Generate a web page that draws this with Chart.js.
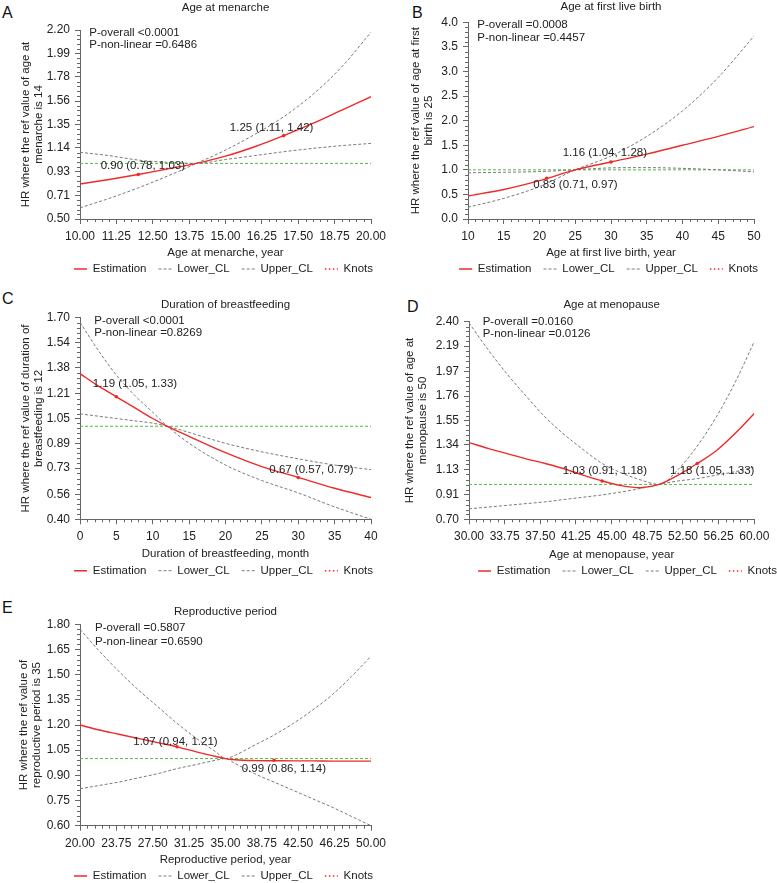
<!DOCTYPE html>
<html><head><meta charset="utf-8">
<script src="https://cdn.jsdelivr.net/npm/chart.js@4.4.1/dist/chart.umd.min.js"></script>
<style>
html,body{margin:0;padding:0;background:#fff;overflow:hidden;width:777px;height:883px;position:relative;}
canvas{position:absolute;}
.lab{position:absolute;font-size:16px;line-height:16px;font-family:"Liberation Sans",Arial,sans-serif;color:#111;}
</style></head><body>
<div class="lab" style="left:2px;top:5px">A</div>
<div class="lab" style="left:412px;top:5px">B</div>
<div class="lab" style="left:2px;top:291px">C</div>
<div class="lab" style="left:407px;top:299px">D</div>
<div class="lab" style="left:2px;top:600px">E</div>
<script>
// ---------------- DATA ----------------
// A: Age at menarche
const menarcheX     = [10, 11, 12, 13, 14, 15, 16, 17, 18, 19, 20];
const menarcheEst   = [0.815, 0.855, 0.90, 0.95, 1.0, 1.065, 1.15, 1.25, 1.36, 1.48, 1.60];
const menarcheLower = [0.60, 0.685, 0.78, 0.885, 1.0, 1.12, 1.26, 1.42, 1.62, 1.87, 2.18];
const menarcheUpper = [1.10, 1.07, 1.03, 1.01, 1.0, 1.035, 1.07, 1.105, 1.135, 1.16, 1.18];
const menarcheKnotX = [12, 17];
const menarcheKnotY = [0.90, 1.25];
const menarcheXTicks = [10, 11.25, 12.5, 13.75, 15, 16.25, 17.5, 18.75, 20];
const menarcheYTicks = [0.50, 0.71, 0.93, 1.14, 1.35, 1.56, 1.78, 1.99, 2.20];

// B: Age at first live birth
const birthX     = [10, 15, 20, 25, 30, 35, 40, 45, 50];
const birthEst   = [0.47, 0.60, 0.78, 1.0, 1.16, 1.32, 1.50, 1.68, 1.88];
const birthLower = [0.24, 0.42, 0.66, 1.0, 1.28, 1.68, 2.20, 2.88, 3.72];
const birthUpper = [0.94, 0.95, 0.965, 1.0, 1.04, 1.045, 1.03, 1.0, 0.96];
const birthKnotX = [21, 30];
const birthKnotY = [0.83, 1.16];
const birthXTicks = [10, 15, 20, 25, 30, 35, 40, 45, 50];
const birthYTicks = [0.0, 0.5, 1.0, 1.5, 2.0, 2.5, 3.0, 3.5, 4.0];

// C: Duration of breastfeeding
const feedX     = [0, 2.5, 5, 7.5, 10, 12, 15, 20, 25, 30, 35, 40];
const feedEst   = [1.34, 1.26, 1.19, 1.12, 1.05, 1.0, 0.935, 0.83, 0.74, 0.67, 0.60, 0.54];
const feedLower = [1.08, 1.065, 1.05, 1.035, 1.02, 1.0, 0.96, 0.89, 0.835, 0.79, 0.75, 0.72];
const feedUpper = [1.67, 1.49, 1.33, 1.20, 1.09, 1.0, 0.89, 0.75, 0.65, 0.57, 0.48, 0.40];
const feedKnotX = [5, 30];
const feedKnotY = [1.19, 0.67];
const feedXTicks = [0, 5, 10, 15, 20, 25, 30, 35, 40];
const feedYTicks = [0.40, 0.56, 0.73, 0.89, 1.05, 1.21, 1.38, 1.54, 1.70];

// D: Age at menopause
const menoX     = [30, 32, 34, 36, 38, 40, 42, 44, 46, 48, 50, 52, 54, 56, 58, 60];
const menoEst   = [1.36, 1.31, 1.265, 1.22, 1.18, 1.135, 1.08, 1.03, 0.99, 0.972, 1.0, 1.08, 1.18, 1.29, 1.44, 1.61];
const menoLower = [0.79, 0.805, 0.82, 0.835, 0.85, 0.87, 0.89, 0.91, 0.935, 0.965, 1.0, 1.03, 1.05, 1.08, 1.11, 1.15];
const menoUpper = [2.39, 2.16, 1.95, 1.76, 1.58, 1.43, 1.30, 1.18, 1.10, 1.04, 1.0, 1.13, 1.33, 1.58, 1.88, 2.23];
const menoKnotX = [44, 54];
const menoKnotY = [1.03, 1.18];
const menoXTicks = [30, 33.75, 37.5, 41.25, 45, 48.75, 52.5, 56.25, 60];
const menoYTicks = [0.70, 0.91, 1.13, 1.34, 1.55, 1.76, 1.97, 2.19, 2.40];

// E: Reproductive period
const reproX     = [20, 22, 24, 26, 28, 30, 32, 34, 35, 36, 38, 40, 42, 44, 46, 48, 50];
const reproEst   = [1.20, 1.17, 1.145, 1.12, 1.095, 1.07, 1.04, 1.012, 1.0, 0.993, 0.988, 0.987, 0.986, 0.986, 0.985, 0.985, 0.985];
const reproLower = [0.82, 0.84, 0.86, 0.885, 0.91, 0.94, 0.965, 0.99, 1.0, 0.97, 0.91, 0.86, 0.81, 0.76, 0.71, 0.655, 0.60];
const reproUpper = [1.77, 1.64, 1.52, 1.41, 1.31, 1.21, 1.12, 1.04, 1.0, 1.02, 1.08, 1.14, 1.21, 1.29, 1.38, 1.49, 1.61];
const reproKnotX = [30, 40];
const reproKnotY = [1.07, 0.99];
const reproXTicks = [20, 23.75, 27.5, 31.25, 35, 38.75, 42.5, 46.25, 50];
const reproYTicks = [0.60, 0.75, 0.90, 1.05, 1.20, 1.35, 1.50, 1.65, 1.80];

// ---------------- PANELS ----------------
const panels = [
  { title: 'Age at menarche', xTitle: 'Age at menarche, year',
    yTitle: ['HR where the ref value of age at', 'menarche is 14'],
    x: menarcheX, est: menarcheEst, lo: menarcheLower, up: menarcheUpper, kx: menarcheKnotX, ky: menarcheKnotY,
    xTicks: menarcheXTicks, yTicks: menarcheYTicks, xDec: 2, yDec: 2,
    pText: ['P-overall <0.0001', 'P-non-linear =0.6486'],
    notes: [{t: '0.90 (0.78, 1.03)', x: 10.71, y: 0.98}, {t: '1.25 (1.11, 1.42)', x: 15.15, y: 1.316}],
    geo: {x0: 0, top: 0, cl: 80, cr: 371, ct: 30, cb: 219, titleY: 7.5, xTitleY: 253, legY: 269, legEnd: 373, yTitleX: 25.7, pdx: 9.3, pdy: [2.7, 15]} },
  { title: 'Age at first live birth', xTitle: 'Age at first live birth, year',
    yTitle: ['HR where the ref value of age at first', 'birth is 25'],
    x: birthX, est: birthEst, lo: birthLower, up: birthUpper, kx: birthKnotX, ky: birthKnotY,
    xTicks: birthXTicks, yTicks: birthYTicks, xDec: 0, yDec: 1,
    pText: ['P-overall =0.0008', 'P-non-linear =0.4457'],
    notes: [{t: '1.16 (1.04, 1.28)', x: 23.24, y: 1.348}, {t: '0.83 (0.71, 0.97)', x: 19.13, y: 0.691}],
    geo: {x0: 390, top: 0, cl: 468, cr: 754, ct: 22.3, cb: 219, titleY: 7.3, xTitleY: 253, legY: 269, legEnd: 758, yTitleX: 415.7, pdx: 9.3, pdy: [2.7, 15.4]} },
  { title: 'Duration of breastfeeding', xTitle: 'Duration of breastfeeding, month',
    yTitle: ['HR where the ref value of duration of', 'breastfeeding is 12'],
    x: feedX, est: feedEst, lo: feedLower, up: feedUpper, kx: feedKnotX, ky: feedKnotY,
    xTicks: feedXTicks, yTicks: feedYTicks, xDec: 0, yDec: 2,
    pText: ['P-overall <0.0001', 'P-non-linear =0.8269'],
    notes: [{t: '1.19 (1.05, 1.33)', x: 1.75, y: 1.271}, {t: '0.67 (0.57, 0.79)', x: 26.02, y: 0.718}],
    geo: {x0: 0, top: 290, cl: 80, cr: 371, ct: 317.7, cb: 519.3, titleY: 305, xTitleY: 554, legY: 570.7, legEnd: 373, yTitleX: 25.7, pdx: 14.3, pdy: [3, 15.6]} },
  { title: 'Age at menopause', xTitle: 'Age at menopause, year',
    yTitle: ['HR where the ref value of age at', 'menopause is 50'],
    x: menoX, est: menoEst, lo: menoLower, up: menoUpper, kx: menoKnotX, ky: menoKnotY,
    xTicks: menoXTicks, yTicks: menoYTicks, xDec: 2, yDec: 2,
    pText: ['P-overall =0.0160', 'P-non-linear =0.0126'],
    notes: [{t: '1.03 (0.91, 1.18)', x: 39.85, y: 1.118}, {t: '1.18 (1.05, 1.33)', x: 51.14, y: 1.118}],
    geo: {x0: 390, top: 290, cl: 469, cr: 754.3, ct: 321.7, cb: 519.3, titleY: 305, xTitleY: 555, legY: 571, legEnd: 777, yTitleX: 410, pdx: 13.7, pdy: [0, 12.6]} },
  { title: 'Reproductive period', xTitle: 'Reproductive period, year',
    yTitle: ['HR where the ref value of', 'reproductive period is 35'],
    x: reproX, est: reproEst, lo: reproLower, up: reproUpper, kx: reproKnotX, ky: reproKnotY,
    xTicks: reproXTicks, yTicks: reproYTicks, xDec: 2, yDec: 2,
    pText: ['P-overall =0.5807', 'P-non-linear =0.6590'],
    notes: [{t: '1.07 (0.94, 1.21)', x: 25.49, y: 1.10}, {t: '0.99 (0.86, 1.14)', x: 36.67, y: 0.936}],
    geo: {x0: 0, top: 595, cl: 80, cr: 371, ct: 624.3, cb: 825.7, titleY: 611.7, xTitleY: 860, legY: 876, legEnd: 373, yTitleX: 24, pdx: 15, pdy: [4, 17.4]} }
];

const FONT = '"Liberation Sans", Arial, Helvetica, sans-serif';
const FS = 11.5, TICKFS = 12, LEGP = 12;
const TXT = '#222', AXIS = '#666';
const RED = '#ee2a2a', GRAY = '#7a7a7a', GREEN = '#55b84a';

function pts(xs, ys) { return xs.map((x, i) => ({x: x, y: ys[i]})); }

function legendLabels(chart) {
  const items = Chart.defaults.plugins.legend.labels.generateLabels(chart);
  return items.filter(it => it.text !== 'ref')
    .sort((p, q) => p.datasetIndex - q.datasetIndex)
    .map(it => {
      const ds = chart.data.datasets[it.datasetIndex];
      it.lineDash = ds.borderDash || [];
      it.lineWidth = ds.borderWidth;
      it.strokeStyle = ds.borderColor;
      it.fillStyle = ds.borderColor;
      it.pointStyle = 'line';
      return it;
    });
}

function makePanel(P) {
  const G = P.geo;
  const lh = FS * 1.2;
  const Lc = G.x0;
  const Rl = G.legEnd + LEGP;
  const canvasRight = Math.max(G.cr + 18, Rl);
  const W = Math.ceil(canvasRight - Lc);
  const padR = (Lc + W) - Rl;
  const w = Rl - G.cr;
  const a = G.titleY - G.top - lh / 2;
  const b = G.ct - G.top - lh - a;
  const legTop = G.legY - LEGP - FS / 2;
  const legBottom = legTop + FS + LEGP + 10;
  const H = Math.ceil(legBottom - G.top);
  const padB = G.top + H - legBottom;
  const hX = legTop - G.cb;
  const pbX = legTop - lh / 2 - G.xTitleY;
  const yLh = 13;
  const ptY = G.yTitleX - Lc - yLh / 2;

  const cv = document.createElement('canvas');
  cv.width = W; cv.height = H;
  cv.style.left = Lc + 'px'; cv.style.top = G.top + 'px';
  cv.style.width = W + 'px'; cv.style.height = H + 'px';
  document.body.appendChild(cv);

  const xmin = P.xTicks[0], xmax = P.xTicks[P.xTicks.length - 1];
  const ymin = P.yTicks[0], ymax = P.yTicks[P.yTicks.length - 1];

  const deco = {
    id: 'deco',
    afterDraw(chart) {
      const ctx = chart.ctx, ca = chart.chartArea;
      const xs = chart.scales.x, ys = chart.scales.y;
      ctx.save();
      // minor ticks
      ctx.strokeStyle = AXIS; ctx.lineWidth = 1;
      ctx.beginPath();
      for (let i = 0; i < P.xTicks.length - 1; i++) {
        const v0 = P.xTicks[i], v1 = P.xTicks[i + 1];
        for (let k = 1; k < 5; k++) {
          const px = Math.round(xs.getPixelForValue(v0 + (v1 - v0) * k / 5)) + 0.5;
          ctx.moveTo(px, ca.bottom); ctx.lineTo(px, ca.bottom + 3);
        }
      }
      for (let i = 0; i < P.yTicks.length - 1; i++) {
        const v0 = P.yTicks[i], v1 = P.yTicks[i + 1];
        for (let k = 1; k < 5; k++) {
          const py = Math.round(ys.getPixelForValue(v0 + (v1 - v0) * k / 5)) + 0.5;
          ctx.moveTo(ca.left, py); ctx.lineTo(ca.left - 3, py);
        }
      }
      ctx.stroke();
      // texts
      ctx.fillStyle = TXT;
      ctx.font = FS + 'px ' + FONT;
      ctx.textAlign = 'left'; ctx.textBaseline = 'middle';
      ctx.fillText(P.pText[0], ca.left + G.pdx, ca.top + G.pdy[0]);
      ctx.fillText(P.pText[1], ca.left + G.pdx, ca.top + G.pdy[1]);
      P.notes.forEach(n => {
        ctx.fillText(n.t, xs.getPixelForValue(n.x), ys.getPixelForValue(n.y));
      });
      ctx.restore();
    }
  };

  const lineBase = {pointRadius: 0, pointHoverRadius: 0, cubicInterpolationMode: 'monotone', fill: false};

  new Chart(cv, {
    type: 'line',
    data: {
      datasets: [
        Object.assign({label: 'Estimation', data: pts(P.x, P.est), borderColor: RED, backgroundColor: RED, borderWidth: 1.4, order: 1}, lineBase),
        Object.assign({label: 'Lower_CL', data: pts(P.x, P.lo), borderColor: GRAY, backgroundColor: GRAY, borderWidth: 1, borderDash: [3, 2], order: 2}, lineBase),
        Object.assign({label: 'Upper_CL', data: pts(P.x, P.up), borderColor: GRAY, backgroundColor: GRAY, borderWidth: 1, borderDash: [3, 2], order: 3}, lineBase),
        {label: 'Knots', data: pts(P.kx, P.ky), showLine: false, borderColor: RED, backgroundColor: RED,
         pointBackgroundColor: RED, pointBorderColor: RED, pointRadius: 1.8, pointBorderWidth: 0, borderWidth: 1.5, borderDash: [1.5, 2.5], order: 0},
        Object.assign({label: 'ref', data: [{x: xmin, y: 1}, {x: xmax, y: 1}], borderColor: GREEN, backgroundColor: GREEN, borderWidth: 1, borderDash: [3, 2], order: 5}, lineBase)
      ]
    },
    options: {
      responsive: false, animation: false, devicePixelRatio: 1,
      layout: {padding: {left: 0, top: 0, right: padR, bottom: padB}},
      plugins: {
        tooltip: {enabled: false},
        title: {display: true, text: P.title, fullSize: false, position: 'top', align: 'center', color: TXT,
                font: {family: FONT, size: FS, weight: 'normal'}, padding: {top: a, bottom: b}},
        legend: {display: true, position: 'bottom', align: 'end', fullSize: true,
                 labels: {usePointStyle: true, pointStyle: 'line', pointStyleWidth: 13, padding: LEGP, color: TXT,
                          font: {family: FONT, size: FS}, generateLabels: legendLabels}}
      },
      scales: {
        x: {
          type: 'linear', min: xmin, max: xmax,
          afterBuildTicks: s => { s.ticks = P.xTicks.map(v => ({value: v})); },
          afterFit: s => { s.height = hX; s.paddingLeft = 0; s.paddingRight = 0; },
          ticks: {autoSkip: false, maxRotation: 0, minRotation: 0, padding: 5.5, color: TXT,
                  font: {family: FONT, size: TICKFS}, callback: v => Number(v).toFixed(P.xDec)},
          grid: {display: true, drawOnChartArea: false, drawTicks: true, tickLength: 5, tickColor: AXIS, tickWidth: 1},
          border: {display: true, color: AXIS, width: 1},
          title: {display: true, text: P.xTitle, color: TXT, font: {family: FONT, size: FS}, padding: {top: 0, bottom: pbX}}
        },
        y: {
          type: 'linear', position: 'left', min: ymin, max: ymax,
          afterBuildTicks: s => { s.ticks = P.yTicks.map(v => ({value: v})); },
          afterFit: s => { s.width = G.cl - Lc; s.paddingTop = 0; s.paddingBottom = 0; },
          ticks: {autoSkip: false, padding: 5, color: TXT, font: {family: FONT, size: TICKFS},
                  callback: v => Number(v).toFixed(P.yDec)},
          grid: {display: true, drawOnChartArea: false, drawTicks: true, tickLength: 5, tickColor: AXIS, tickWidth: 1},
          border: {display: true, color: AXIS, width: 1},
          title: {display: true, text: P.yTitle, color: TXT, font: {family: FONT, size: FS, lineHeight: yLh / FS},
                  padding: {top: ptY, bottom: 0}}
        },
        yR: {
          type: 'linear', position: 'right', display: true,
          grid: {display: false}, border: {display: false}, ticks: {display: false}, title: {display: false},
          afterFit: s => { s.width = w; s.paddingTop = 0; s.paddingBottom = 0; }
        }
      }
    },
    plugins: [deco]
  });
}

panels.forEach(makePanel);
</script>
</body></html>
